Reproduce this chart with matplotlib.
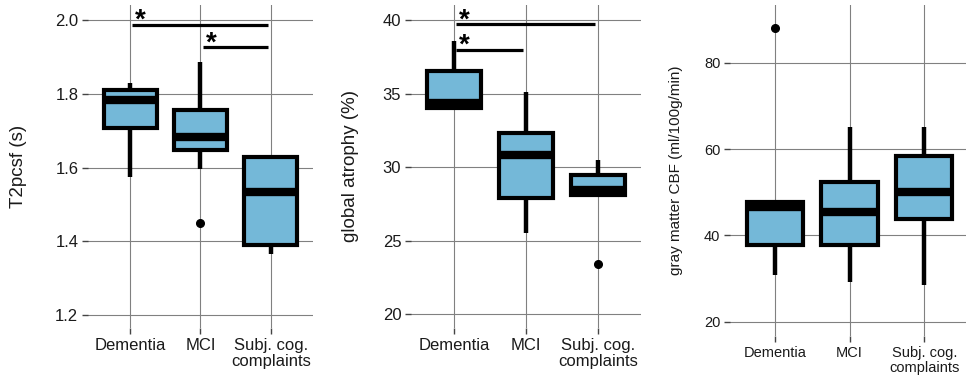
import numpy as np
import matplotlib
matplotlib.use("Agg")
import matplotlib.pyplot as plt

plt.rcParams['font.family'] = ['Liberation Sans', 'DejaVu Sans']

groups = ["Dementia", "MCI", "Subj. cog.\ncomplaints"]

# box stats per group: lower whisker, q1, median, q3, upper whisker, outliers
t2_whislo = [1.574, 1.595, 1.365]
t2_q1 = [1.707, 1.647, 1.389]
t2_med = [1.783, 1.683, 1.533]
t2_q3 = [1.810, 1.757, 1.629]
t2_whishi = [1.829, 1.886, 1.629]
t2_fliers = [[], [1.449], []]

atr_whislo = [34.0, 25.5, 28.1]
atr_q1 = [34.0, 27.9, 28.1]
atr_med = [34.35, 30.8, 28.45]
atr_q3 = [36.55, 32.3, 29.45]
atr_whishi = [38.6, 35.1, 30.5]
atr_fliers = [[], [], [23.4]]

cbf_whislo = [30.8, 29.3, 28.5]
cbf_q1 = [37.8, 37.9, 43.8]
cbf_med = [46.6, 45.5, 50.0]
cbf_q3 = [47.8, 52.4, 58.5]
cbf_whishi = [47.8, 65.2, 65.2]
cbf_fliers = [[88.0], [], []]

# significance brackets: (from group, to group, height)
t2_sig = [(1, 3, 1.988), (2, 3, 1.926)]
atr_sig = [(1, 3, 39.7), (1, 2, 37.95)]

W, H = 966, 377
fig = plt.figure(figsize=(W / 100, H / 100), dpi=100)

def px_axes(l, r, t, b):
    return fig.add_axes([l / W, 1 - b / H, (r - l) / W, (b - t) / H])

fill = "#74b8d8"
gridc = "#808080"

def boxpanel(ax, lo, q1, med, q3, hi, fl, ylim, yticks, ylabel, fs_tick, fs_lab):
    stats = []
    for i in range(3):
        stats.append(dict(whislo=lo[i], q1=q1[i], med=med[i], q3=q3[i],
                          whishi=hi[i], fliers=fl[i], label=groups[i]))
    ax.bxp(stats, positions=[1, 2, 3], widths=0.75, showcaps=False,
           patch_artist=True,
           boxprops=dict(facecolor=fill, edgecolor="black", linewidth=3),
           medianprops=dict(color="black", linewidth=6, solid_capstyle="butt"),
           whiskerprops=dict(color="black", linewidth=3.2, solid_capstyle="butt"),
           flierprops=dict(marker="o", markerfacecolor="black",
                           markeredgecolor="black", markersize=5.5))
    ax.set_xlim(0.4, 3.6)
    ax.set_ylim(*ylim)
    ax.set_yticks(yticks)
    ax.set_xticks([1, 2, 3])
    ax.set_xticklabels(groups, linespacing=1.1)
    ax.set_axisbelow(True)
    ax.grid(True, color=gridc, linewidth=0.8)
    for s in ax.spines.values():
        s.set_visible(False)
    ax.tick_params(axis="both", length=4, width=1, color="#444444",
                   labelsize=fs_tick, labelcolor="#1a1a1a", pad=3)
    ax.set_ylabel(ylabel, fontsize=fs_lab, color="#1a1a1a")

def sigs(ax, sig):
    for a, b, h in sig:
        ax.plot([a + 0.03, b - 0.04], [h, h], color="black", linewidth=2.3,
                solid_capstyle="butt")
        ax.annotate("*", xy=(a + 0.03, h), xytext=(6, -2), textcoords="offset points",
                    ha="center", va="baseline", fontsize=20, fontweight="bold")

ax1 = px_axes(88, 313, 5, 328)
boxpanel(ax1, t2_whislo, t2_q1, t2_med, t2_q3, t2_whishi, t2_fliers,
         (1.165, 2.041), [1.2, 1.4, 1.6, 1.8, 2.0], "T2pcsf (s)", 12, 13.5)
ax1.set_yticklabels(["1.2", "1.4", "1.6", "1.8", "2.0"])
sigs(ax1, t2_sig)
ax1.yaxis.set_label_coords(-0.271, 0.5)

ax2 = px_axes(411, 641, 5, 328)
boxpanel(ax2, atr_whislo, atr_q1, atr_med, atr_q3, atr_whishi, atr_fliers,
         (19.05, 41.02), [20, 25, 30, 35, 40], "global atrophy (%)", 12, 13.5)
sigs(ax2, atr_sig)
ax2.yaxis.set_label_coords(-0.226, 0.5)

ax3 = px_axes(730, 969, 5, 336)
boxpanel(ax3, cbf_whislo, cbf_q1, cbf_med, cbf_q3, cbf_whishi, cbf_fliers,
         (16.7, 93.4), [20, 40, 60, 80], "gray matter CBF (ml/100g/min)", 10.5, 11)
ax3.yaxis.set_label_coords(-0.197, 0.5)

fig.savefig("out.png", dpi=100)
